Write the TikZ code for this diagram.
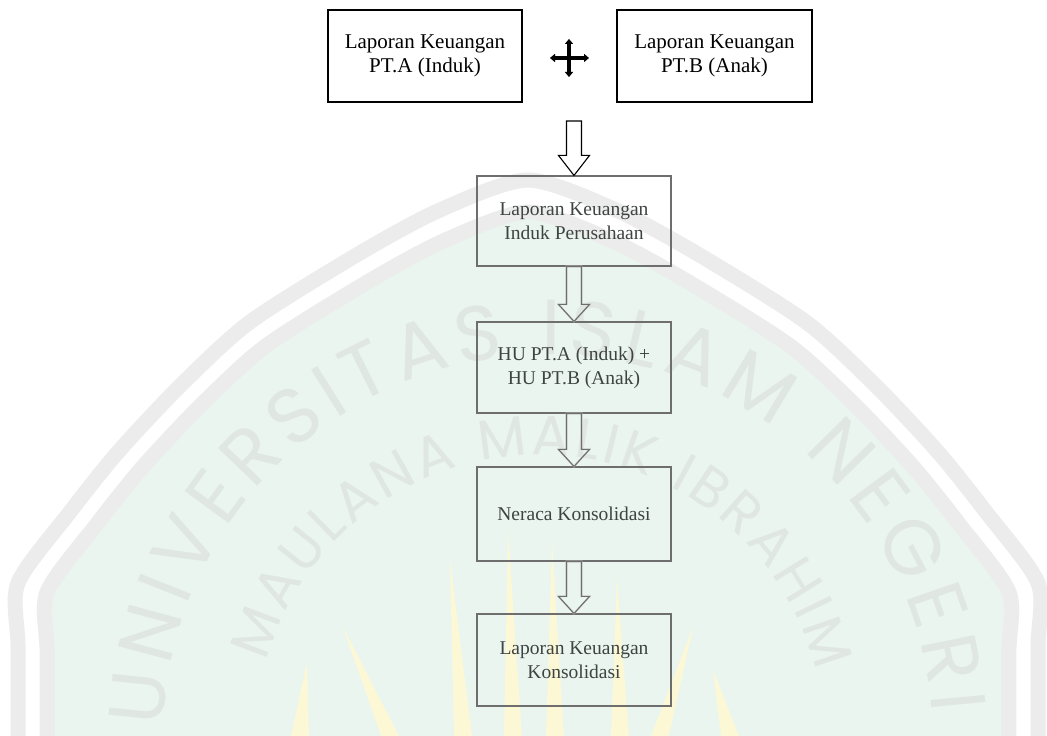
\documentclass[tikz,border=0pt]{standalone}
\usepackage{fontspec}
\setmainfont{Liberation Serif}
\newfontfamily\wmfont{Poppins}
\usetikzlibrary{calc,arrows.meta,decorations.text}
\definecolor{wmgreen}{HTML}{E9F5EE}
\definecolor{wmband}{HTML}{ECECEC}
\definecolor{wmtext}{HTML}{E0E7E3}
\definecolor{wmyellow}{HTML}{FCF8D6}
\definecolor{lowline}{HTML}{6E6E6E}
\definecolor{lowtext}{HTML}{3E4442}
\newcommand\hollowarrow[4]{%
  \draw[#1] ($(#2)+(-7.5,0)$) -- ($(#3)+(-7.5,#4)$) -- ($(#3)+(-15.5,#4)$) -- (#3)
    -- ($(#3)+(15.5,#4)$) -- ($(#3)+(7.5,#4)$) -- ($(#2)+(7.5,0)$) -- cycle;}
\newcommand\yellowstroke[2]{%
  \fill[wmyellow] (#1) -- ($(#2)+(-9,0)$) -- ($(#2)+(9,0)$) -- cycle;}
\tikzset{
  archshape/.style={insert path={plot[smooth,tension=0.45] coordinates {(18,-4) (18,90) (18,153) (70,224) (118,284) (180,350) (250,414) (360,483) (440,526) (528,556) (616,526) (696,483) (806,414) (876,350) (938,284) (986,224) (1038,153) (1038,90) (1038,-4)}}},
  topbox/.style={draw=black, line width=1.1pt, minimum width=194pt, minimum height=92pt,
    inner sep=0pt, align=center, font=\fontsize{21}{24}\selectfont},
  lowbox/.style={draw=lowline, line width=1.1pt, minimum width=194pt, inner sep=0pt,
    align=center, text=lowtext, font=\fontsize{19.5}{24}\selectfont},
  toparrow/.style={draw=black, line width=1.1pt, line join=miter},
  lowarrow/.style={draw=lowline, line width=1.1pt, line join=miter},
  arrowshadow/.style={draw=black!18, line width=1.6pt, shift={(1.6,-1.6)}},
  crossarm/.style={line width=3.6pt, {Triangle[width=8pt,length=5pt]}-{Triangle[width=8pt,length=5pt]}},
}
\begin{document}
\begin{tikzpicture}[x=1pt,y=1pt]
\useasboundingbox (0,0) rectangle (1047,736);
\fill[white] (0,0) rectangle (1047,736);
\begin{scope}
\clip (0,0) rectangle (1047,736);
% watermark
\begin{scope}[shift={(528,-4)}, scale=0.943, shift={(-528,4)}]
  \fill[wmgreen] [archshape] -- cycle;
  \draw[wmband, line width=15pt] [archshape];
\end{scope}
\draw[wmband, line width=15pt] [archshape];
\path[decorate, decoration={text along path, text align=fit to path,
  text={|\wmfont\fontsize{78}{78}\selectfont\color{wmtext}|UNIVERSITAS ISLAM NEGERI}}]
  (548,-4) ++(178:385) arc[start angle=178, end angle=4, radius=385];
\path[decorate, decoration={text along path, text align=fit to path,
  text={|\wmfont\fontsize{56}{56}\selectfont\color{wmtext}|MAULANA MALIK IBRAHIM}}]
  (540,-4) ++(164:285) arc[start angle=164, end angle=14, radius=285];
\coordinate (ya) at (450,176); \coordinate (yb) at (463,0);
\coordinate (yc) at (508,206); \coordinate (yd) at (513,0);
\coordinate (ye) at (552,194); \coordinate (yf) at (555,0);
\coordinate (yg) at (617,159); \coordinate (yh) at (620,0);
\coordinate (yi) at (343,109); \coordinate (yj) at (390,0);
\coordinate (yk) at (307,74);  \coordinate (yl) at (300,0);
\coordinate (ym) at (693,109); \coordinate (yn) at (660,0);
\coordinate (yo) at (713,66);  \coordinate (yp) at (730,0);
\yellowstroke{ya}{yb}
\yellowstroke{yc}{yd}
\yellowstroke{ye}{yf}
\yellowstroke{yg}{yh}
\yellowstroke{yi}{yj}
\yellowstroke{yk}{yl}
\yellowstroke{ym}{yn}
\yellowstroke{yo}{yp}
\end{scope}

% boxes
\node[topbox] (A) at (425,680) {Laporan Keuangan\\PT.A (Induk)};
\node[topbox, minimum width=195pt] (B) at (714.5,680) {Laporan Keuangan\\PT.B (Anak)};
\node[lowbox, minimum height=90pt] (C) at (574,515) {Laporan Keuangan\\Induk Perusahaan};
\node[lowbox, minimum height=91pt] (D) at (574,368.5) {HU PT.A (Induk) +\\HU PT.B (Anak)};
\node[lowbox, minimum height=94pt] (E) at (574,222) {Neraca Konsolidasi};
\node[lowbox, minimum height=92pt] (F) at (574,76) {Laporan Keuangan\\Konsolidasi};

% plus (four-way arrow) sign
\coordinate (plus) at (569,678);
\coordinate (plusL) at (550,678);
\coordinate (plusR) at (589,678);
\coordinate (plusT) at (569,697);
\coordinate (plusB) at (569,659);
\begin{scope}[shift={(1.8,-1.8)}]
  \draw[crossarm, black!25] (plusL) -- (plusR);
  \draw[crossarm, black!25] (plusT) -- (plusB);
\end{scope}
\draw[crossarm, black] (plusL) -- (plusR);
\draw[crossarm, black] (plusT) -- (plusB);

% hollow arrows
\coordinate (a1) at (C.north |- 0,615);
\hollowarrow{toparrow}{a1}{C.north}{20}
\hollowarrow{arrowshadow}{C.south}{D.north}{17}
\hollowarrow{lowarrow}{C.south}{D.north}{17}
\hollowarrow{arrowshadow}{D.south}{E.north}{17}
\hollowarrow{lowarrow}{D.south}{E.north}{17}
\hollowarrow{arrowshadow}{E.south}{F.north}{17}
\hollowarrow{lowarrow}{E.south}{F.north}{17}
\end{tikzpicture}
\end{document}
